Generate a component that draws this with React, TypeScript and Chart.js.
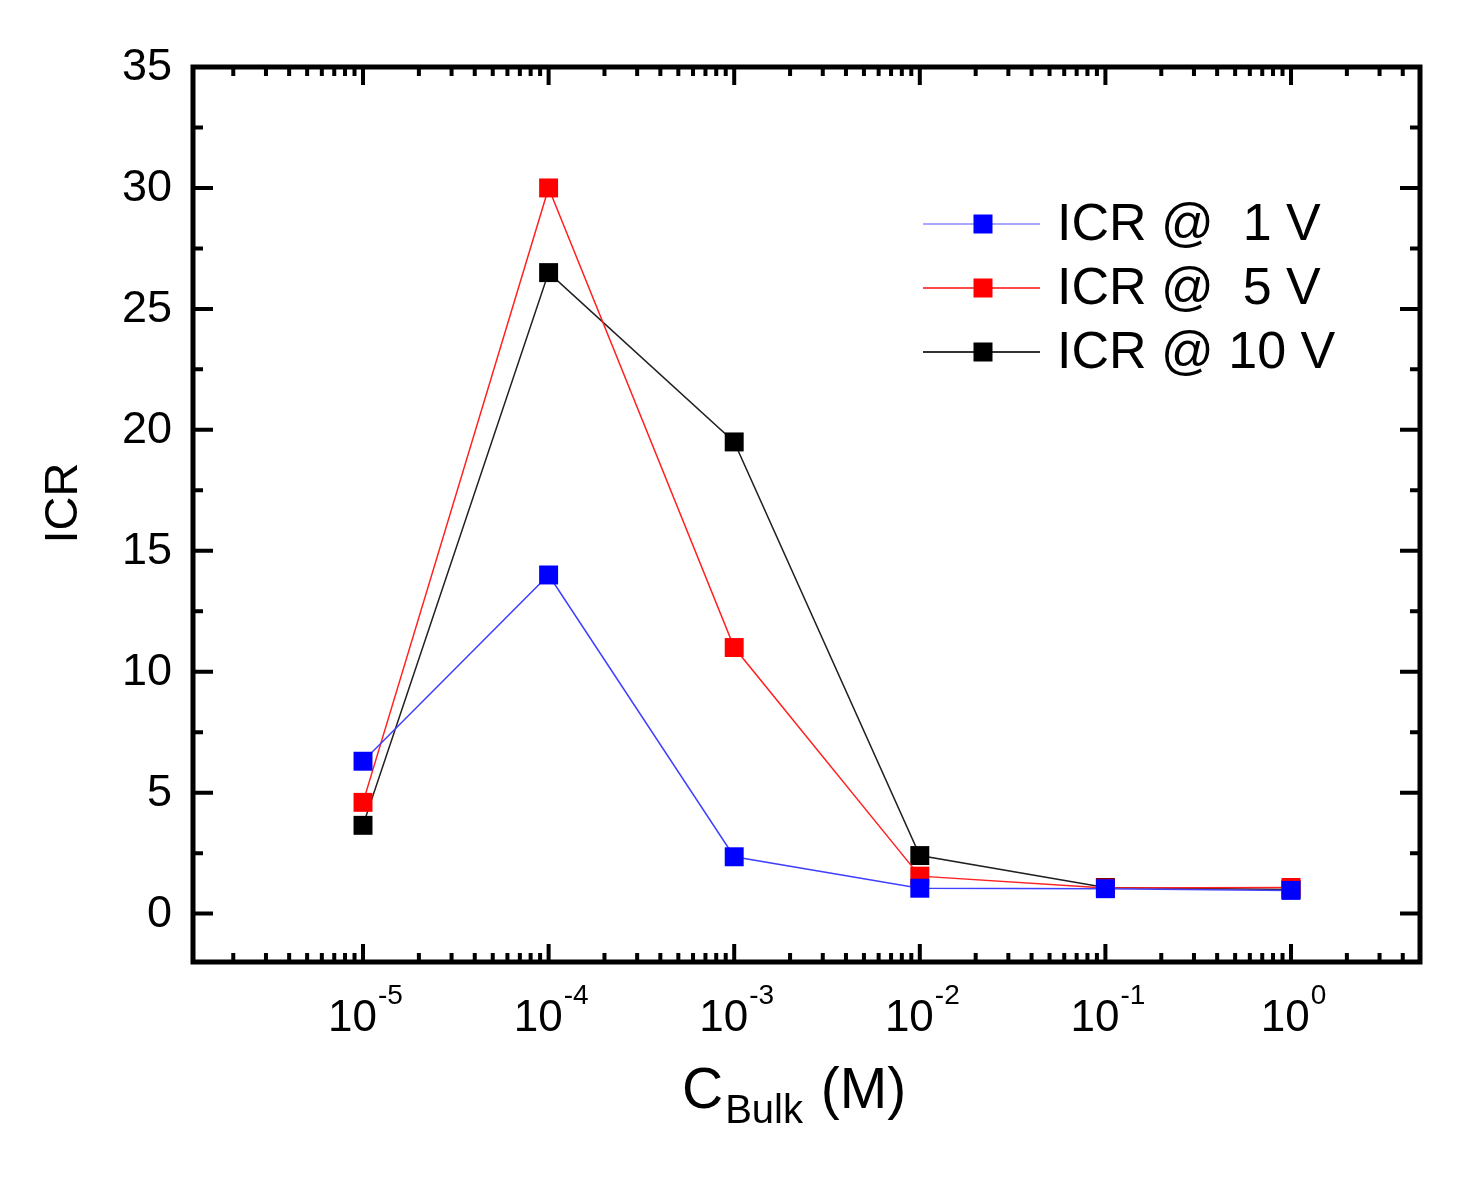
import { useEffect, useRef } from "react";
import { Chart, registerables } from "chart.js";

Chart.register(...registerables);

// concentrations (M) and ICR values
const concentrations = [1e-5, 1e-4, 1e-3, 1e-2, 1e-1, 1];
const icr1V = [6.3, 14.0, 2.35, 1.05, 1.03, 0.96];
const icr5V = [4.6, 30.0, 11.0, 1.55, 1.06, 1.08];
const icr10V = [3.65, 26.5, 19.5, 2.4, 1.08, 1.0];

const seriesNames = ["ICR @  1 V", "ICR @  5 V", "ICR @ 10 V"];
const yTicks = [0, 5, 10, 15, 20, 25, 30, 35];
const xDecades = [-5, -4, -3, -2, -1, 0];

const FONT = "'Liberation Sans', Arial, sans-serif";

const toPoints = (vals: number[]) =>
  concentrations.map((c, i) => ({ x: c, y: vals[i] }));

const legendStyle = [
  { line: "#a8a8ff", mark: "#0000ff" },
  { line: "#ff4a4a", mark: "#ff0000" },
  { line: "#333333", mark: "#000000" },
];

const framePlugin = {
  id: "frame",
  afterDraw(chart: any) {
    const { ctx, chartArea: a } = chart;
    const xs = chart.scales.x;
    const ys = chart.scales.y;
    ctx.save();

    // ticks, inside, on all four sides
    ctx.strokeStyle = "#000";
    ctx.lineWidth = 4;
    const xMin = xs.min;
    const xMax = xs.max;
    for (let d = -6; d <= 0; d++) {
      for (let k = 1; k <= 9; k++) {
        const v = k * Math.pow(10, d);
        if (v < xMin || v > xMax) continue;
        const px = xs.getPixelForValue(v);
        const len = k === 1 ? 18 : 9;
        ctx.beginPath();
        ctx.moveTo(px, a.bottom);
        ctx.lineTo(px, a.bottom - len);
        ctx.moveTo(px, a.top);
        ctx.lineTo(px, a.top + len);
        ctx.stroke();
      }
    }
    for (let v = 0; v <= 35; v += 2.5) {
      const py = ys.getPixelForValue(v);
      const len = v % 5 === 0 ? 20 : 10;
      ctx.beginPath();
      ctx.moveTo(a.left, py);
      ctx.lineTo(a.left + len, py);
      ctx.moveTo(a.right, py);
      ctx.lineTo(a.right - len, py);
      ctx.stroke();
    }

    // frame
    ctx.lineWidth = 5;
    ctx.strokeRect(a.left, a.top, a.right - a.left, a.bottom - a.top);

    // y tick labels
    ctx.fillStyle = "#000";
    ctx.font = `45px ${FONT}`;
    ctx.textAlign = "right";
    ctx.textBaseline = "middle";
    yTicks.forEach((t) => {
      ctx.fillText(String(t), a.left - 21, ys.getPixelForValue(t) + 1);
    });

    // x tick labels 10^n
    ctx.textAlign = "left";
    ctx.textBaseline = "alphabetic";
    xDecades.forEach((d) => {
      const px = xs.getPixelForValue(Math.pow(10, d));
      ctx.font = `44px ${FONT}`;
      const wb = ctx.measureText("10").width;
      ctx.font = `28px ${FONT}`;
      const exp = d === 0 ? "0" : `-${-d}`;
      const we = ctx.measureText(exp).width;
      const x0 = px - (wb + we) / 2 + 2;
      ctx.font = `44px ${FONT}`;
      ctx.fillText("10", x0, 1031);
      ctx.font = `28px ${FONT}`;
      ctx.fillText(exp, x0 + wb + 1, 1004);
    });

    // x axis title C_Bulk (M)
    const tx = 682;
    ctx.font = `57px ${FONT}`;
    const wc = ctx.measureText("C").width;
    ctx.fillText("C", tx, 1108);
    ctx.font = `40px ${FONT}`;
    const wsub = ctx.measureText("Bulk").width;
    ctx.fillText("Bulk", tx + wc + 2, 1123);
    ctx.font = `57px ${FONT}`;
    ctx.fillText(" (M)", tx + wc + wsub + 4, 1108);

    // y axis title
    ctx.save();
    ctx.translate(62, 503);
    ctx.rotate(-Math.PI / 2);
    ctx.textAlign = "center";
    ctx.textBaseline = "middle";
    ctx.font = `47px ${FONT}`;
    ctx.fillText("ICR", 0, 2);
    ctx.restore();

    // legend
    const rows = [224, 288, 352];
    seriesNames.forEach((name, i) => {
      const y = rows[i];
      ctx.strokeStyle = legendStyle[i].line;
      ctx.lineWidth = 2;
      ctx.beginPath();
      ctx.moveTo(923, y);
      ctx.lineTo(1040, y);
      ctx.stroke();
      ctx.fillStyle = legendStyle[i].mark;
      ctx.fillRect(983 - 9.5, y - 9.5, 19, 19);
      ctx.fillStyle = "#000";
      ctx.font = `52px ${FONT}`;
      ctx.textAlign = "left";
      ctx.textBaseline = "middle";
      ctx.fillText(name, 1057, y + 2);
    });

    ctx.restore();
  },
};

export default function App() {
  const canvasRef = useRef<HTMLCanvasElement | null>(null);

  useEffect(() => {
    document.body.style.margin = "0";
    if (!canvasRef.current) return;

    const chart = new Chart(canvasRef.current, {
      type: "line",
      data: {
        datasets: [
          {
            label: seriesNames[0],
            data: toPoints(icr1V),
            borderColor: "#4040ff",
            backgroundColor: "#0000ff",
            pointBackgroundColor: "#0000ff",
            pointBorderWidth: 0,
            borderWidth: 1.5,
            pointStyle: "rect",
            pointRadius: 13.4,
          },
          {
            label: seriesNames[1],
            data: toPoints(icr5V),
            borderColor: "#ff2020",
            backgroundColor: "#ff0000",
            pointBackgroundColor: "#ff0000",
            pointBorderWidth: 0,
            borderWidth: 1.5,
            pointStyle: "rect",
            pointRadius: 13.4,
          },
          {
            label: seriesNames[2],
            data: toPoints(icr10V),
            borderColor: "#202020",
            backgroundColor: "#000000",
            pointBackgroundColor: "#000000",
            pointBorderWidth: 0,
            borderWidth: 1.5,
            pointStyle: "rect",
            pointRadius: 13.4,
          },
        ],
      },
      options: {
        animation: false,
        responsive: true,
        maintainAspectRatio: false,
        devicePixelRatio: 1,
        layout: { padding: { left: 193, right: 56, top: 67, bottom: 217 } },
        plugins: {
          legend: { display: false },
          tooltip: { enabled: false },
        },
        scales: {
          x: {
            type: "logarithmic",
            min: Math.pow(10, -5.916),
            max: Math.pow(10, 0.695),
            ticks: { display: false },
            grid: { display: false, drawTicks: false },
            border: { display: false },
            afterFit: (s: any) => {
              s.height = 0;
            },
          },
          y: {
            type: "linear",
            min: -2,
            max: 35,
            ticks: { display: false },
            grid: { display: false, drawTicks: false },
            border: { display: false },
            afterFit: (s: any) => {
              s.width = 0;
            },
          },
        },
      },
      plugins: [framePlugin],
    });

    return () => chart.destroy();
  }, []);

  return (
    <div style={{ width: 1476, height: 1179, position: "relative", background: "#fff" }}>
      <canvas ref={canvasRef} />
    </div>
  );
}
